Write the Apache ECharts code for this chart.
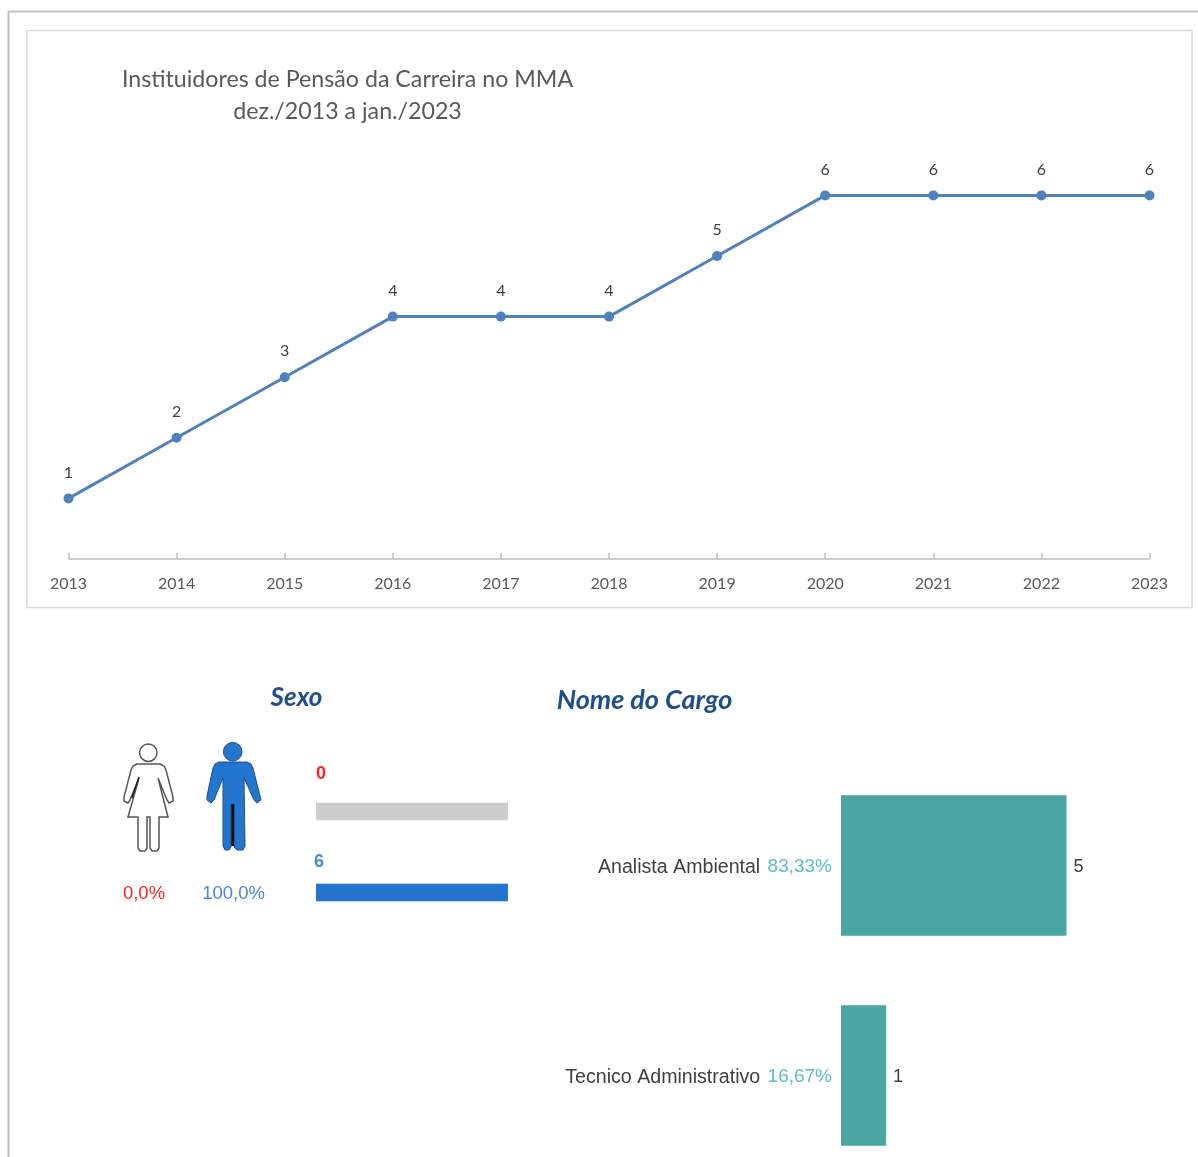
<!DOCTYPE html>
<html>
<head>
<meta charset="utf-8">
<title>Instituidores de Pensão</title>
<script src="https://cdn.jsdelivr.net/npm/echarts@6/dist/echarts.min.js"></script>
<style>
    html, body { margin: 0; padding: 0; background: #fff; }
    #chart { width: 1198px; height: 1157px; }
</style>
</head>
<body>
<div id="chart"></div>
<script>
const years = ['2013', '2014', '2015', '2016', '2017', '2018', '2019', '2020', '2021', '2022', '2023'];
const instituidores = [1, 2, 3, 4, 4, 4, 5, 6, 6, 6, 6];

const sexoCategorias = ['Feminino', 'Masculino'];
const sexoValores = [0, 6];
const sexoPercentuais = ['0,0%', '100,0%'];

const cargos = ['Analista Ambiental', 'Tecnico Administrativo'];
const cargoValores = [5, 1];
const cargoPercentuais = ['83,33%', '16,67%'];

const TITLE_FONT = 'Lato, sans-serif';
const ARIAL = '"Liberation Sans", Arial, sans-serif';
const RED = '#FF2020';
const BLUE = '#4A86D8';

// icons are plain decoration, the numbers come from the arrays above
const womanOutline = [
    [137, 764], [133, 766], [131, 770], [124, 797], [124, 801], [128, 803], [130, 800], [139, 778],
    [128, 817], [138, 817], [138, 848], [140, 851], [145, 851], [147, 848], [147, 817], [150, 817],
    [150, 848], [152, 851], [157, 851], [159, 848], [159, 817], [168, 817], [158, 778], [167, 800],
    [169, 803], [173, 801], [173, 797], [166, 770], [164, 766], [160, 764]
];
const manOutline = [
    [219, 762], [215, 764], [213, 768], [207, 796], [207, 800], [211, 803], [214, 800], [223, 778],
    [223, 846], [225, 850], [229, 850], [231, 847], [231, 805], [234, 805], [234, 847], [237, 850],
    [243, 850], [245, 846], [244, 778], [254, 800], [257, 803], [261, 800], [260, 796], [253, 768],
    [251, 764], [247, 762]
];

function render_dashboard() {
    const myChart = echarts.init(document.getElementById('chart'));

    const option = {
        backgroundColor: '#fff',
        animation: false,
        title: [
            {
                text: 'Instituidores de Pensão da Carreira no MMA\ndez./2013 a jan./2023',
                left: 342.5,
                top: 59,
                textAlign: 'center',
                textStyle: { fontFamily: TITLE_FONT, fontSize: 23.2, fontWeight: 'normal', color: '#595959', lineHeight: 32 }
            },
            {
                text: 'Sexo',
                left: 291.5,
                top: 680,
                textAlign: 'center',
                textStyle: { fontFamily: TITLE_FONT, fontSize: 26, fontWeight: 'bold', fontStyle: 'italic', color: '#1F4E8C' }
            },
            {
                text: 'Nome do Cargo',
                left: 639.5,
                top: 682,
                textAlign: 'center',
                textStyle: { fontFamily: TITLE_FONT, fontSize: 27, fontWeight: 'bold', fontStyle: 'italic', color: '#1F4E8C' }
            }
        ],
        grid: [
            { left: 68.5, width: 1081, top: 134.8, height: 424.2 },
            { left: 316, width: 192, top: 771, height: 162 },
            // grid runs from the centre of the first bar to the centre of the second
            { left: 841, width: 225.5, top: 865.5, height: 210 }
        ],
        xAxis: [
            {
                gridIndex: 0,
                type: 'category',
                data: years,
                boundaryGap: false,
                axisLine: { lineStyle: { color: '#BFBFBF', width: 1.5 } },
                axisTick: { inside: true, length: 6, lineStyle: { color: '#BFBFBF', width: 1.5 } },
                axisLabel: { margin: 17, interval: 0, fontFamily: TITLE_FONT, fontSize: 16, color: '#595959' },
                splitLine: { show: false }
            },
            { gridIndex: 1, type: 'value', min: 0, max: 6, show: false },
            { gridIndex: 2, type: 'value', min: 0, max: 5, show: false }
        ],
        yAxis: [
            { gridIndex: 0, type: 'value', min: 0, max: 7, show: false },
            { gridIndex: 1, type: 'category', data: sexoCategorias, inverse: true, show: false },
            {
                gridIndex: 2,
                type: 'category',
                data: cargos,
                inverse: true,
                boundaryGap: false,
                axisLine: { show: false },
                axisTick: { show: false },
                axisLabel: {
                    margin: 9,
                    interval: 0,
                    showMinLabel: true,
                    showMaxLabel: true,
                    formatter: function (value, index) {
                        return '{nome|' + value + '} {pct|' + cargoPercentuais[index] + '}';
                    },
                    rich: {
                        nome: { fontFamily: ARIAL, fontSize: 19.6, color: '#404040', padding: [5, 4, 0, 0] },
                        pct: { fontFamily: ARIAL, fontSize: 19, color: '#5BBFC6', padding: [3, 0, 0, 0] }
                    }
                }
            }
        ],
        series: [
            {
                name: 'Instituidores',
                type: 'line',
                xAxisIndex: 0,
                yAxisIndex: 0,
                data: instituidores,
                symbol: 'circle',
                symbolSize: 10,
                lineStyle: { color: '#4F81BD', width: 3 },
                itemStyle: { color: '#4F81BD' },
                label: { show: true, position: 'top', distance: 13, fontFamily: TITLE_FONT, fontSize: 16, color: '#404040' }
            },
            {
                name: 'Sexo',
                type: 'bar',
                xAxisIndex: 1,
                yAxisIndex: 1,
                barWidth: 17.5,
                showBackground: true,
                backgroundStyle: { color: '#CCCCCC' },
                itemStyle: { color: '#2475CE' },
                data: [
                    { value: sexoValores[0], label: { show: true, position: [0, -38], color: RED, fontFamily: ARIAL, fontSize: 18, fontWeight: 'bold' } },
                    { value: sexoValores[1], label: { show: true, position: [-2, -31], color: BLUE, fontFamily: ARIAL, fontSize: 18, fontWeight: 'bold' } }
                ]
            },
            {
                name: 'Cargo',
                type: 'bar',
                xAxisIndex: 2,
                yAxisIndex: 2,
                barWidth: 140.5,
                clip: false,
                data: cargoValores,
                itemStyle: { color: '#48A5A2' },
                label: { show: true, position: 'right', distance: 7, offset: [0, 2], fontFamily: ARIAL, fontSize: 18, color: '#404040' }
            }
        ],
        graphic: [
            { type: 'polyline', z: -1, shape: { points: [[8.5, 1157], [8.5, 11.5], [1198, 11.5]] }, style: { stroke: '#BFBFBF', lineWidth: 2, fill: 'none' } },
            { type: 'rect', z: -1, shape: { x: 27, y: 30.5, width: 1165, height: 577 }, style: { stroke: '#D9D9D9', lineWidth: 1.5, fill: '#fff' } },

            { type: 'circle', shape: { cx: 148.3, cy: 752.7, r: 8.7 }, style: { fill: '#fff', stroke: '#555', lineWidth: 1.5 } },
            { type: 'polygon', shape: { points: womanOutline }, style: { fill: '#fff', stroke: '#555', lineWidth: 1.5 } },
            { type: 'line', shape: { x1: 139, y1: 777, x2: 132, y2: 798 }, style: { stroke: '#222', lineWidth: 1.5 } },

            { type: 'circle', shape: { cx: 232.7, cy: 751.7, r: 9.3 }, style: { fill: '#2475CE', stroke: '#1F4E8C', lineWidth: 1 } },
            { type: 'polygon', shape: { points: manOutline }, style: { fill: '#2475CE', stroke: '#1F4E8C', lineWidth: 1 } },
            { type: 'line', shape: { x1: 232.7, y1: 804, x2: 232.7, y2: 846 }, style: { stroke: '#111', lineWidth: 3 } },

            { type: 'text', style: { text: sexoPercentuais[0], x: 144, y: 893.5, align: 'center', verticalAlign: 'middle', fontFamily: ARIAL, fontSize: 18.5, fill: RED } },
            { type: 'text', style: { text: sexoPercentuais[1], x: 233.5, y: 893.5, align: 'center', verticalAlign: 'middle', fontFamily: ARIAL, fontSize: 18.5, fill: BLUE } }
        ]
    };

    myChart.setOption(option, true);
}

render_dashboard();
</script>
</body>
</html>
